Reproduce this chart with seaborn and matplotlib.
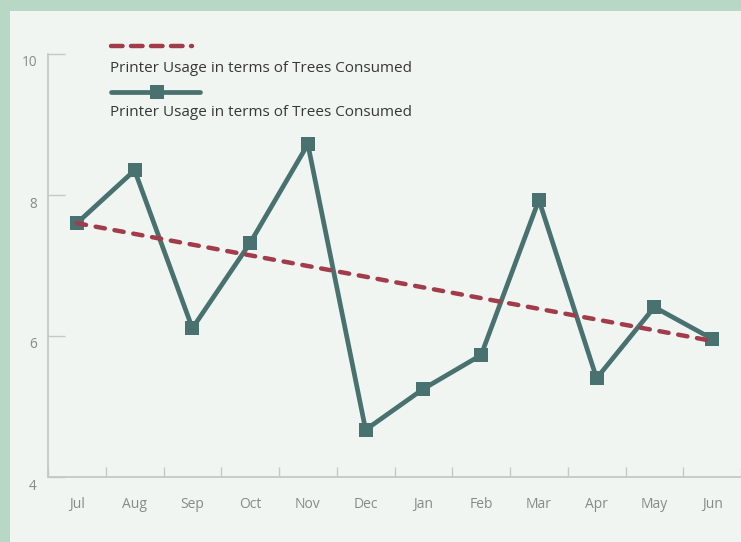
import matplotlib
matplotlib.use("Agg")
import matplotlib.pyplot as plt
import matplotlib.transforms as mtransforms
from matplotlib.lines import Line2D
from matplotlib.patches import Rectangle
import numpy as np
import pandas as pd
import seaborn as sns

months = ["Jul", "Aug", "Sep", "Oct", "Nov", "Dec", "Jan", "Feb", "Mar", "Apr", "May", "Jun"]
trees = [7.60, 8.35, 6.11, 7.32, 8.72, 4.67, 5.25, 5.73, 7.93, 5.40, 6.41, 5.96]
trend_start = 7.60
trend_end = 5.93
y_ticks = [4, 6, 8, 10]
legend_labels = ["Printer Usage in terms of Trees Consumed",
                 "Printer Usage in terms of Trees Consumed"]

TEAL = "#48716f"
RED = "#a23b4a"
PANEL = "#f0f5f1"
BORDER = "#b8d8c5"
TICKC = "#c4c8c6"
LABC = "#868a88"
TXT = "#353837"

sns.set_theme(style="white")
plt.rcParams["font.family"] = ["Open Sans", "DejaVu Sans"]

W, H = 741, 542
fig = plt.figure(figsize=(W / 100, H / 100), dpi=100)
fig.patch.set_facecolor(BORDER)
fig.patches.append(Rectangle((10 / W, 0), 1, (H - 11) / H, transform=fig.transFigure,
                             facecolor=PANEL, edgecolor="none", zorder=-5))

ax = fig.add_axes([48 / W, (H - 477) / H, (W - 48) / W, (477 - 54) / H])
ax.set_facecolor("none")
ax.set_zorder(2)

df = pd.DataFrame({"month": months, "trees": trees})
sns.lineplot(data=df, x="month", y="trees", ax=ax, color=TEAL, linewidth=3.4,
             marker="s", markersize=10, markeredgewidth=0, sort=False, zorder=3)
trend_df = pd.DataFrame({"month": [months[0], months[-1]], "trees": [trend_start, trend_end]})
sns.lineplot(data=trend_df, x="month", y="trees", ax=ax, color=RED, linewidth=3.2,
             sort=False, zorder=4)
ax.lines[-1].set_linestyle((0, (2.1, 2.2)))
ax.lines[-1].set_dash_capstyle("round")

ax.set_xlim(-0.5, len(months) - 0.5)
ax.set_ylim(4, 10)
ax.set_xlabel("")
ax.set_ylabel("")

for s in ["top", "right"]:
    ax.spines[s].set_visible(False)
for s in ["left", "bottom"]:
    ax.spines[s].set_color(TICKC)
    ax.spines[s].set_linewidth(1.3)

ax.set_yticks(y_ticks)
ax.set_yticklabels([str(v) for v in y_ticks])
ax.tick_params(axis="y", direction="in", length=12.2, width=1.0, color=TICKC,
               labelsize=9.8, labelcolor=LABC, pad=8, left=True)
off = mtransforms.ScaledTranslation(0, -7 / 100, fig.dpi_scale_trans)
for lab in ax.get_yticklabels():
    lab.set_transform(lab.get_transform() + off)

ax.set_xticks(range(len(months)))
ax.set_xticklabels(months)
ax.set_xticks(np.arange(-0.5, len(months)), minor=True)
ax.tick_params(axis="x", which="major", length=0, labelsize=10, labelcolor=LABC, pad=14.5)
ax.tick_params(axis="x", which="minor", direction="in", length=7.2, width=1.0,
               color=TICKC, bottom=True)

# legend (text under each sample)
fig.lines.append(Line2D([111 / W, 192 / W], [1 - 46 / H, 1 - 46 / H], transform=fig.transFigure,
                        color=RED, linewidth=3.2, linestyle=(0, (2.6, 1.9)),
                        dash_capstyle="round"))
fig.text(110 / W, 1 - 68 / H, legend_labels[0], color=TXT, fontsize=11, va="center", ha="left")
fig.lines.append(Line2D([111 / W, 200 / W], [1 - 92 / H, 1 - 92 / H], transform=fig.transFigure,
                        color=TEAL, linewidth=3.4, solid_capstyle="round"))
fig.lines.append(Line2D([157 / W], [1 - 92 / H], transform=fig.transFigure,
                        color=TEAL, marker="s", markersize=10, markeredgewidth=0))
fig.text(110 / W, 1 - 112 / H, legend_labels[1], color=TXT, fontsize=11, va="center", ha="left")

fig.savefig("out.png", dpi=100, facecolor=fig.get_facecolor())
